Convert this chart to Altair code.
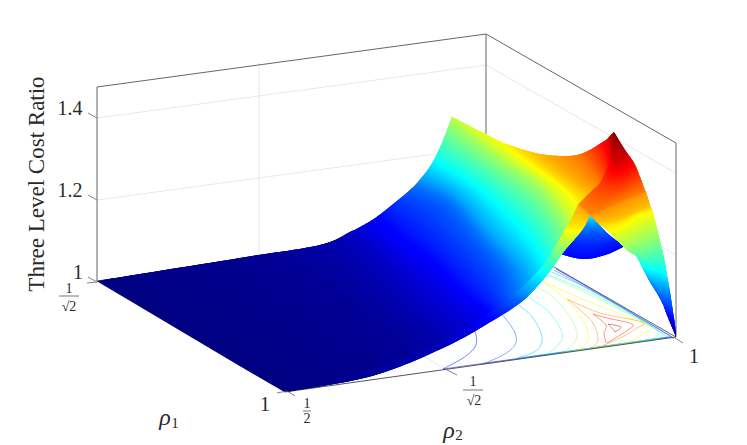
import altair as alt

# --- colour position t along the jet map, and outline nodes ---
JET_T = [0, 0.11, 0.36, 0.61, 0.86, 1]
JET_C = ["#000080", "#0000ff", "#00ffff", "#ffff00", "#ff0000", "#800000"]
Z_SPAN = 0.42

MAIN_A_T = [0, .015, .035, .06, .085, .11, .20, .28, .36, .45, .55]
MAIN_A = [
    [(97,281),(144,309),(191,337),(238,365),(285,392)],
    [(240,258),(300,290),(340,320),(375,350),(385,364)],
    [(320,245),(345,262),(385,300),(425,335),(437,343)],
    [(350,232),(378,256),(412,292),(448,325),(458,331)],
    [(362,226),(390,248),(428,280),(462,310),(478,320)],
    [(378,216),(402,238),(433,261),(467,295),(490,312)],
    [(409,191),(443,207),(473,240),(500,272),(510,298)],
    [(423,176),(458,195),(492,232),(520,262),(530,279)],
    [(434,160),(477,187),(513,220),(533,243),(545,262)],
    [(444,138),(490,170),(530,200),(550,225),(558,241)],
    [(452,117),(500,155),(540,182),(560,205),(570,221)],
]
MAIN_B_T = [.55, .61]
MAIN_B = [
    [(452,117),(500,155),(540,182),(560,205),(570,221)],
    [(503,143),(525,160),(550,178),(565,190),(578,204)],
]
MAIN_C_T = [.61, .68, .74, .86, .93, 1]
MAIN_C = [
    [(503,143),(525,160),(550,178),(565,190),(578,204)],
    [(540,154),(555,167),(570,178),(580,186),(590,192)],
    [(577,155),(585,163),(590,170),(596,177),(600,182)],
    [(603,142),(605,148),(607,153),(608,158),(609,163)],
    [(610,136),(610,139),(611,142),(611,145),(612,148)],
    [(614,132),(614,132),(614,132),(614,132),(614,132)],
]

LEG_T = [.70, .62, .50, .42, .36, .28, .20, .11, .05, .02, 0]
LEG = [
    [(578,204),(590,215)],
    [(560,228),(582,230)],
    [(550,244),(565,250)],
    [(541,258),(556,263)],
    [(532,270),(547,275)],
    [(520,283),(533,291)],
    [(505,297),(520,303)],
    [(478,315),(492,321)],
    [(432,341),(445,347)],
    [(365,366),(372,376)],
    [(285,392),(285,392)],
]

UPPER_T = [1, .93, .86, .80, .72]
UPPER = [
    [(614,132)]*5,
    [(625,150),(622,152),(619,153),(615,152),(609,147)],
    [(634,163),(628,168),(620,172),(612,172),(604,162)],
    [(640,177),(630,183),(618,188),(606,188),(594,180)],
    [(646,193),(625,202),(605,210),(590,215),(578,204)],
]

RIGHT_T = [.72, .67, .61, .50, .42, .36, .25, .15, .08, 0]
RIGHT = [
    [(646,192),(625,201),(605,209),(590,215)],
    [(650,205),(632,213),(615,220),(597,222)],
    [(653,213),(640,216),(625,225),(609,232)],
    [(659,237),(650,240),(638,245),(627,250)],
    [(664,258),(655,258),(645,260),(636,256)],
    [(667,275),(660,272),(650,270),(642,267)],
    [(670,292),(663,290),(657,288),(650,282)],
    [(673,312),(669,310),(665,308),(661,300)],
    [(675,325),(672,322),(670,320),(667,315)],
    [(676,337)]*4,
]

BOWL_T = [.38, .28, .20, .14, .11]
BOWL = [
    [(590,215)]*4,
    [(583,222),(588,222),(592,222),(597,222)],
    [(575,232),(585,232),(596,232),(606,232)],
    [(565,243),(580,246),(600,245),(617,241)],
    [(560,254),(583,259),(605,255),(625,246)],
]

CONTOUR_T = [.11, .20, .30, .40, .50, .61, .72, .82, .92]
# each contour: an arc, the arm along the back edge, the run back along the front edge
CONTOUR_ARCS = [
    [(443,369),(463,358),(475,347),(476,335),(470,320)],
    [(483,364),(503,355),(515,345),(515,333),(505,318),(495,308)],
    [(518,358),(537,350),(542,337),(533,318),(520,306),(510,298)],
    [(547,355),(560,343),(562,333),(550,313),(530,298),(520,290)],
    [(565,352),(577,337),(570,317),(553,297),(538,287),(530,280)],
    [(577,351),(588,340),(583,320),(563,297),(542,281)],
    [(591,349),(598,340),(593,323),(580,310),(567,299)],
    [(606,343),(604,333),(606,325),(593,314)],
    [(615,332),(612,328),(608,324)],
]
CONTOUR_ARMS = [
    [(556,269),(610,300),(669,335),(671,337)],
    [(554,270),(605,298),(665,333),(668,337)],
    [(552,272),(600,295),(662,333),(664,338)],
    [(549,275),(595,295),(657,330),(659,338)],
    [(530,268),(590,295),(655,329),(652,339)],
    [(542,281),(580,298),(620,314),(649,327),(645,333),(625,344)],
    [(567,299),(600,313),(642,322),(637,328),(620,338),(597,348)],
    [(593,314),(607,318),(632,324),(628,330),(607,343)],
    [(608,324),(621,327),(615,332)],
]
CONTOUR_RUNS = [
    [(671,337),(443,369)], [(668,337),(483,364)], [(664,338),(518,358)],
    [(659,338),(547,355)], [(652,339),(565,352)], [(625,344),(577,351)],
    [(597,348),(591,349)], [], [],
]

BOX = [
    [(97,87),(97,281)], [(97,87),(486,34)], [(486,34),(486,228)],
    [(486,34),(676,143)], [(676,143),(676,337)], [(676,337),(486,228)],
    [(97,281),(486,228)], [(97,281),(285,392)],
]
FRONT = [[(285,392),(676,337)]]
GRID = [
    [(97,118),(486,65)], [(486,65),(676,173)],
    [(97,200),(486,147)], [(486,147),(676,255)],
    [(259,63),(259,259)], [(447,370),(259,259)],
]
TICKS = [
    [(88,113),(97,118)], [(88,195),(97,200)], [(88,277),(97,282)],
    [(87,283),(97,282)], [(277,393),(287,391)], [(295,396),(287,391)],
    [(447,370),(457,375)], [(675,338),(683,343)],
]
BARS = [[(59,296),(79,296)], [(303,411),(311,411)], [(463,390),(483,390)]]

LABELS_BIG = [("1.4",70,109), ("1.2",70,191), ("1",78,273), ("1",265,405), ("1",694,357)]
LABELS_SMALL = [("1",69,289), ("√2",69,307), ("1",307,404), ("2",307,419), ("1",473,382), ("√2",474,401)]
RHO = [("ρ",165,418), ("ρ",449,431)]
RHO_SUB = [("1",175,423), ("2",459,435)]
TITLE = [("Three Level Cost Ratio",37,184)]

# --- helpers ---
FONT = "Liberation Serif"
INK = "#2a2a2a"
W, H = 731, 437
PROJ = dict(type="identity", scale=1, translate=[-8, -8])

def to_ratio(t):
    return 1 + Z_SPAN * t

COLOR_SCALE = alt.Scale(domain=[to_ratio(t) for t in JET_T], range=JET_C, interpolate="rgb")

def smooth(pts, m):
    if len(pts) < 3:
        return [(pts[0][0] + (pts[-1][0] - pts[0][0]) * k / m,
                 pts[0][1] + (pts[-1][1] - pts[0][1]) * k / m) for k in range(m + 1)]
    out = []
    n = len(pts)
    for i in range(n - 1):
        p0, p1, p2, p3 = pts[max(i - 1, 0)], pts[i], pts[i + 1], pts[min(i + 2, n - 1)]
        for k in range(m):
            a = k / m
            out.append(tuple(
                0.5 * (2 * p1[c] + (p2[c] - p0[c]) * a
                       + (2 * p0[c] - 5 * p1[c] + 4 * p2[c] - p3[c]) * a * a
                       + (3 * p1[c] - p0[c] - 3 * p2[c] + p3[c]) * a ** 3)
                for c in (0, 1)))
    out.append(tuple(pts[-1]))
    return out

def mesh(*parts, steps=14, along=4):
    """Strips between neighbouring curves, painted in order; each strip runs under the next."""
    rows, ts = [], []
    for levels, curves in parts:
        fine = [smooth(c, along) for c in curves]
        cols = [smooth([f[j] for f in fine], steps) for j in range(len(fine[0]))]
        part_rows = [[col[r] for col in cols] for r in range(len(cols[0]))]
        for i in range(len(levels) - 1):
            for s in range(steps):
                ts.append(levels[i] + (levels[i + 1] - levels[i]) * (s + 0.5) / steps)
        rows += part_rows if not rows else part_rows[1:]
    out = []
    for r, t in enumerate(ts):
        far = min(r + 3, len(rows) - 1)
        low, high = rows[r], rows[r + 1:far + 1]
        ring = [list(p) for p in low]
        for h in high:                 # right-hand side up to the covering row
            ring.append(list(h[-1]))
        ring += [list(p) for p in reversed(rows[far][:-1])]
        for h in reversed(high[:-1]):  # left-hand side back down
            ring.append(list(h[0]))
        ring.append(ring[0])
        out.append({"type": "Feature", "z": to_ratio(t),
                    "geometry": {"type": "Polygon", "coordinates": [ring]}})
    return out

def lines(segs, ts=None):
    out = []
    for k, seg in enumerate(segs):
        f = {"type": "Feature",
             "geometry": {"type": "LineString", "coordinates": [list(p) for p in seg]}}
        if ts is not None:
            f["z"] = to_ratio(ts[k])
        out.append(f)
    return out

def surface(features):
    return alt.Chart(alt.Data(values=features)).mark_geoshape(
        strokeWidth=0, opacity=1, fillOpacity=1
    ).encode(
        color=alt.Color("z:Q", scale=COLOR_SCALE, legend=None),
    ).project(**PROJ)

def stroke_layer(segs, color, width):
    return alt.Chart(alt.Data(values=lines(segs))).mark_geoshape(
        filled=False, stroke=color, strokeWidth=width).project(**PROJ)

def text_layer(items, size, **kw):
    rows = [{"s": s, "px": x, "py": y} for s, x, y in items]
    return alt.Chart(alt.Data(values=rows)).mark_text(
        font=FONT, fontSize=size, color=INK, align="center", baseline="middle", **kw
    ).encode(longitude="px:Q", latitude="py:Q", text="s:N").project(**PROJ)

contour_paths, contour_ts = [], []
for t, arc, arm, run in zip(CONTOUR_T, CONTOUR_ARCS, CONTOUR_ARMS, CONTOUR_RUNS):
    for part in (smooth(arc, 6), smooth(arm, 6), run):
        if part:
            contour_paths.append(part)
            contour_ts.append(t)

contour_layer = alt.Chart(alt.Data(values=lines(contour_paths, contour_ts))).mark_geoshape(
    filled=False, strokeWidth=0.7, opacity=0.7
).encode(stroke=alt.Stroke("z:Q", scale=COLOR_SCALE, legend=None)).project(**PROJ)

chart = alt.layer(
    stroke_layer(GRID, "#e2e2e2", 0.8),
    stroke_layer(BOX, "#666666", 1),
    contour_layer,
    stroke_layer(FRONT, "#555555", 1),
    surface(mesh((BOWL_T, BOWL))),
    surface(mesh((UPPER_T, UPPER))),
    surface(mesh((RIGHT_T, RIGHT))),
    surface(mesh((LEG_T, LEG))),
    surface(mesh((MAIN_A_T, MAIN_A), (MAIN_B_T, MAIN_B), (MAIN_C_T, MAIN_C))),
    stroke_layer(TICKS, "#666666", 0.8),
    stroke_layer(BARS, "#555555", 0.8),
    text_layer(LABELS_BIG, 20),
    text_layer(LABELS_SMALL, 14),
    text_layer(RHO, 24, fontStyle="italic"),
    text_layer(RHO_SUB, 15),
    text_layer(TITLE, 23, angle=270),
).properties(width=W, height=H, padding=0, autosize="none").configure_view(strokeWidth=0)

chart.save("out.html", embed_options={"renderer": "svg", "actions": False})
